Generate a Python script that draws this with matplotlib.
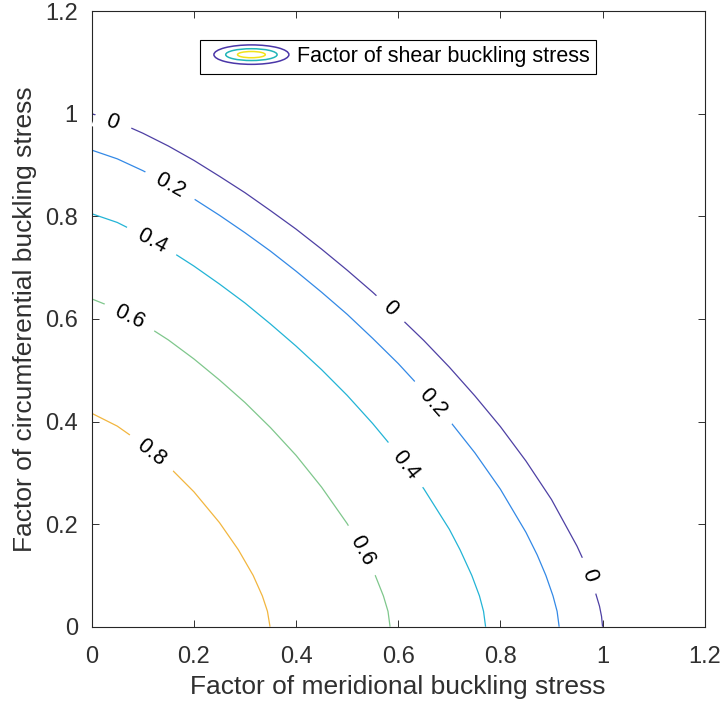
import numpy as np
import matplotlib.pyplot as plt
from matplotlib.patches import Ellipse
from matplotlib.legend_handler import HandlerBase

plt.rcParams['font.family'] = ['Liberation Sans', 'DejaVu Sans']

# contour levels of the shear buckling factor
levels = [0, 0.2, 0.4, 0.6, 0.8]
level_colors = ['#4E40A4', '#3389E6', '#23B4D6', '#7FC78C', '#F2B63F']

# points (meridional factor, circumferential factor)
x_l0 = [0, 0.05, 0.1, 0.15, 0.2, 0.25, 0.3, 0.35, 0.4, 0.45, 0.5, 0.55, 0.6, 0.65,
        0.7, 0.75, 0.8, 0.85, 0.9, 0.95, 0.967, 0.982, 0.994, 0.998, 1.0]
y_l0 = [1.0, 0.984, 0.962, 0.937, 0.909, 0.878, 0.846, 0.811, 0.775, 0.736, 0.695, 0.652, 0.606, 0.558,
        0.506, 0.450, 0.390, 0.323, 0.248, 0.157, 0.12, 0.08, 0.04, 0.02, 0.0]

x_l2 = [0, 0.05, 0.1, 0.15, 0.2, 0.25, 0.3, 0.35, 0.4, 0.45, 0.5, 0.55, 0.6, 0.65,
        0.7, 0.75, 0.8, 0.85, 0.872, 0.889, 0.903, 0.911, 0.915]
y_l2 = [0.929, 0.912, 0.889, 0.863, 0.834, 0.802, 0.768, 0.732, 0.693, 0.652, 0.609, 0.562, 0.513, 0.459,
        0.402, 0.339, 0.268, 0.184, 0.14, 0.10, 0.06, 0.03, 0.0]

x_l4 = [0, 0.05, 0.1, 0.15, 0.2, 0.25, 0.3, 0.35, 0.4, 0.45, 0.5, 0.55, 0.6, 0.65,
        0.7, 0.721, 0.744, 0.759, 0.767, 0.771]
y_l4 = [0.805, 0.788, 0.763, 0.735, 0.703, 0.668, 0.631, 0.590, 0.547, 0.501, 0.451, 0.396, 0.336, 0.269,
        0.190, 0.15, 0.10, 0.06, 0.03, 0.0]

x_l6 = [0, 0.05, 0.1, 0.15, 0.2, 0.25, 0.3, 0.35, 0.4, 0.45, 0.5, 0.531, 0.555, 0.571, 0.580, 0.584]
y_l6 = [0.639, 0.619, 0.591, 0.559, 0.522, 0.481, 0.437, 0.388, 0.334, 0.272, 0.201, 0.15, 0.10, 0.06, 0.03, 0.0]

x_l8 = [0, 0.05, 0.1, 0.15, 0.2, 0.25, 0.287, 0.316, 0.334, 0.344, 0.349]
y_l8 = [0.416, 0.391, 0.356, 0.313, 0.263, 0.203, 0.15, 0.10, 0.06, 0.03, 0.0]

curves_x = [x_l0, x_l2, x_l4, x_l6, x_l8]
curves_y = [y_l0, y_l2, y_l4, y_l6, y_l8]

# where the inline labels sit on each line
label_pos = [
    [(0.042, 0.984), (0.585, 0.620), (0.975, 0.100)],
    [(0.154, 0.861), (0.669, 0.437)],
    [(0.118, 0.753), (0.615, 0.316)],
    [(0.075, 0.605), (0.531, 0.150)],
    [(0.118, 0.340)],
]
label_txt = ['0', '0.2', '0.4', '0.6', '0.8']

ticks = [0, 0.2, 0.4, 0.6, 0.8, 1, 1.2]
tick_lbl = ['0', '0.2', '0.4', '0.6', '0.8', '1', '1.2']

dark = '#303030'


class ContourKey:
    pass


class ContourKeyHandler(HandlerBase):
    def legend_artist(self, legend, orig_handle, fontsize, handlebox):
        w, h = handlebox.width, handlebox.height
        cx = w / 2 - handlebox.xdescent + 2
        cy = h / 2 - handlebox.ydescent
        tr = handlebox.get_transform()
        for ew, eh, c in [(54, 14, '#4A36A8'), (37, 8.5, '#22B5B8'), (20, 4.5, '#F2E21A')]:
            e = Ellipse((cx, cy), ew, eh, fill=False, edgecolor=c, lw=1.1, transform=tr)
            handlebox.add_artist(e)
        return e


fig = plt.figure(figsize=(7.2, 7.06), dpi=100)
ax = fig.add_axes([0.1274, 0.1123, 0.8514, 0.872])
ax.set_xlim(0, 1.2)
ax.set_ylim(0, 1.2)

for xs, ys, c in zip(curves_x, curves_y, level_colors):
    ax.plot(xs, ys, color=c, lw=0.9, solid_capstyle='butt', solid_joinstyle='round', zorder=2)


def label_angle(xs, ys, px, py):
    pts = ax.transData.transform(np.column_stack([xs, ys]))
    p = ax.transData.transform((px, py))
    i = int(np.argmin(np.hypot(pts[:, 0] - p[0], pts[:, 1] - p[1])))
    i0, i1 = max(i - 1, 0), min(i + 1, len(xs) - 1)
    dx, dy = pts[i1] - pts[i0]
    ang = np.degrees(np.arctan2(dy, dx))
    if ang > 90:
        ang -= 180
    if ang < -90:
        ang += 180
    return ang


for xs, ys, pos, txt in zip(curves_x, curves_y, label_pos, label_txt):
    for (px, py) in pos:
        ang = label_angle(xs, ys, px, py)
        ax.text(px, py, '  ' + txt + '  ', rotation=ang, rotation_mode='anchor',
                ha='center', va='center', fontsize=15.5, color='black', zorder=3,
                bbox=dict(boxstyle='square,pad=0.05', fc='white', ec='none'))

ax.set_xticks(ticks)
ax.set_xticklabels(tick_lbl)
ax.set_yticks(ticks)
ax.set_yticklabels(tick_lbl)
ax.tick_params(direction='in', top=True, right=True, length=5, width=0.7,
               labelsize=17, colors=dark)
ax.tick_params(axis='x', pad=14)
ax.tick_params(axis='y', pad=10)
for s in ax.spines.values():
    s.set_linewidth(0.8)
    s.set_color('#262626')

ax.set_xlabel('Factor of meridional buckling stress', fontsize=19, color=dark, labelpad=5)
ax.set_ylabel('Factor of circumferential buckling stress', fontsize=19, color=dark, labelpad=6)

leg = ax.legend([ContourKey()], ['Factor of shear buckling stress'],
                handler_map={ContourKey: ContourKeyHandler()},
                loc='upper center', bbox_to_anchor=(0.5, 0.971), fontsize=15.5,
                handlelength=3.9, handletextpad=0.3, borderpad=0.3,
                fancybox=False, framealpha=1, edgecolor='black')
leg.get_frame().set_linewidth(0.8)

fig.savefig('out.png', dpi=100)
